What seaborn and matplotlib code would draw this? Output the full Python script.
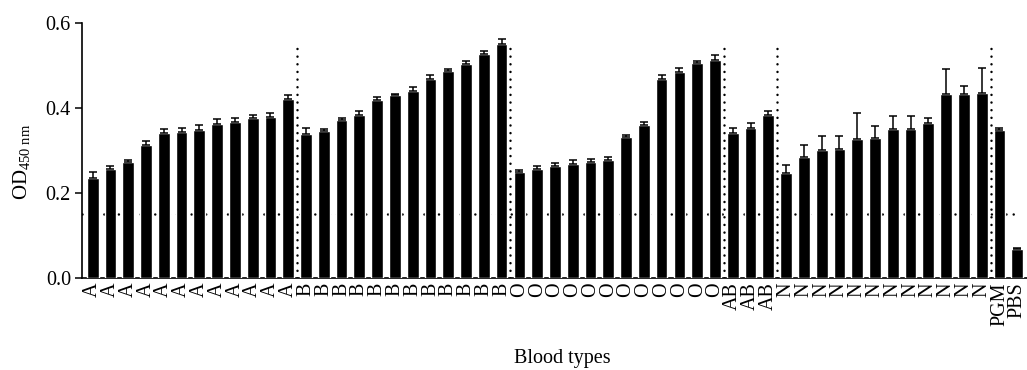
import numpy as np
import pandas as pd
import matplotlib
matplotlib.use("Agg")
import matplotlib.pyplot as plt
import seaborn as sns

# ---- data ----
a_mean = [0.235, 0.257, 0.272, 0.314, 0.342, 0.344, 0.348, 0.362, 0.366, 0.376, 0.380, 0.422]
a_err = [0.015, 0.006, 0.005, 0.008, 0.008, 0.010, 0.011, 0.011, 0.011, 0.008, 0.009, 0.009]
b_mean = [0.340, 0.347, 0.372, 0.384, 0.418, 0.430, 0.440, 0.468, 0.486, 0.503, 0.526, 0.551]
b_err = [0.012, 0.004, 0.004, 0.009, 0.007, 0.004, 0.009, 0.009, 0.005, 0.007, 0.007, 0.011]
o_mean = [0.249, 0.257, 0.263, 0.268, 0.272, 0.278, 0.332, 0.360, 0.468, 0.485, 0.506, 0.513]
o_err = [0.004, 0.007, 0.007, 0.010, 0.007, 0.006, 0.005, 0.006, 0.009, 0.008, 0.005, 0.011]
ab_mean = [0.341, 0.352, 0.384]
ab_err = [0.011, 0.013, 0.010]
n_mean = [0.247, 0.285, 0.301, 0.304, 0.326, 0.329, 0.350, 0.350, 0.364, 0.432, 0.433, 0.435]
n_err = [0.018, 0.029, 0.032, 0.029, 0.062, 0.029, 0.031, 0.031, 0.012, 0.059, 0.018, 0.058]
ctrl_labels = ["PGM", "PBS"]
ctrl_mean = [0.3475, 0.0675]
ctrl_err = [0.006, 0.003]

group_names = ["A", "B", "O", "AB", "N"]
threshold = 0.15
y_ticks = [0.0, 0.2, 0.4, 0.6]

# ---- build table ----
labels = (["A"] * len(a_mean) + ["B"] * len(b_mean) + ["O"] * len(o_mean)
          + ["AB"] * len(ab_mean) + ["N"] * len(n_mean) + ctrl_labels)
means = a_mean + b_mean + o_mean + ab_mean + n_mean + ctrl_mean
errs = a_err + b_err + o_err + ab_err + n_err + ctrl_err
df = pd.DataFrame({"sample": [f"{l}_{i}" for i, l in enumerate(labels)],
                   "label": labels, "od": means, "err": errs})

# ---- style ----
sns.set_style("ticks")
plt.rcParams["font.family"] = ["Liberation Serif", "DejaVu Serif"]
plt.rcParams["mathtext.fontset"] = "custom"
plt.rcParams["mathtext.rm"] = "Liberation Serif"
plt.rcParams["mathtext.it"] = "Liberation Serif:italic"
plt.rcParams["mathtext.bf"] = "Liberation Serif:bold"
for k in ["text.color", "axes.labelcolor", "xtick.color", "ytick.color", "axes.edgecolor"]:
    plt.rcParams[k] = "black"

fig = plt.figure(figsize=(10.27, 3.70), dpi=100)
ax = fig.add_axes([82 / 1027, 92 / 370, 945 / 1027, 255 / 370])

sns.barplot(data=df, x="sample", y="od", order=df["sample"], color="black",
            errorbar=None, width=0.66, saturation=1, ax=ax, zorder=3)
xpos = np.arange(len(df))
ax.errorbar(xpos, df["od"], yerr=[np.zeros(len(df)), df["err"]], fmt="none",
            ecolor="black", elinewidth=1.1, capsize=3.2, capthick=1.1, zorder=4)

# threshold line (behind bars)
ax.plot([-0.6, 51.8], [threshold, threshold], color="black", lw=1.8,
        linestyle=(0, (0.01, 2.9)), dash_capstyle="round", zorder=1)

# group separators
sizes = [len(a_mean), len(b_mean), len(o_mean), len(ab_mean), len(n_mean)]
bounds = np.cumsum(sizes) - 0.5
for bx in bounds:
    ax.plot([bx, bx], [0, 0.555], color="black", lw=1.8,
            linestyle=(0, (0.01, 3.05)), dash_capstyle="round", zorder=5)

ax.set_xlim(-0.6, len(df) - 0.45)
ax.set_ylim(0, 0.6)
ax.set_yticks(y_ticks)
ax.set_yticklabels([f"{v:.1f}" for v in y_ticks], fontsize=14.5)
ax.set_xticks(xpos)
ax.set_xticklabels(df["label"], rotation=90, fontsize=14.5)
ax.tick_params(axis="x", length=0, pad=3)
ax.tick_params(axis="y", length=5, width=1.1, pad=3, direction="out")
for s in ["top", "right"]:
    ax.spines[s].set_visible(False)
for s in ["left", "bottom"]:
    ax.spines[s].set_linewidth(1.2)
    ax.spines[s].set_color("black")

ax.set_xlabel("Blood types", fontsize=14.5)
ax.xaxis.label.set_va("baseline")
ax.xaxis.set_label_coords(0.508, -0.333)
ax.set_ylabel(r"OD$_{\mathrm{450\ nm}}$", fontsize=15)
ax.yaxis.set_label_coords(-0.053, 0.455)

fig.savefig("out.png", dpi=100)
